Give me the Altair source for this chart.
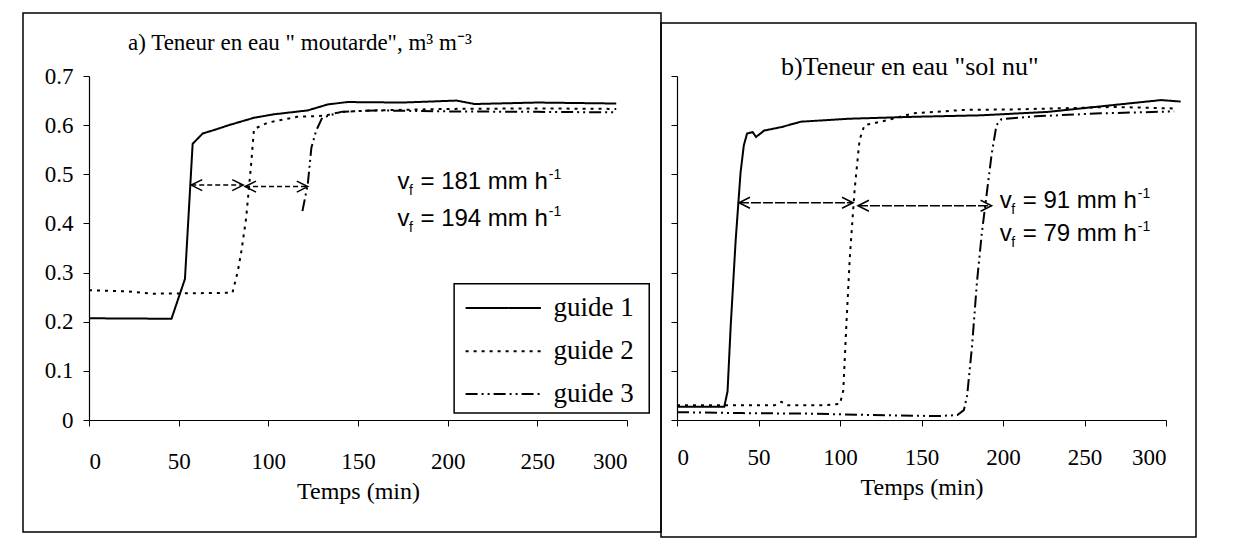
import altair as alt
import pandas as pd

# ---------------- data ----------------
GUIDES = ["guide 1", "guide 2", "guide 3"]
DASHES = [[1, 0], [3, 5], [12, 4, 2, 4, 2, 4]]

# (a) moutarde
A1_T = [0, 46, 53.5, 57.8, 63.4, 69.7, 78, 92, 103, 122, 133, 144, 175, 205, 215, 250, 294]
A1_Y = [0.207, 0.206, 0.287, 0.562, 0.583, 0.590, 0.600, 0.615, 0.622, 0.630, 0.642, 0.647, 0.646, 0.650, 0.643, 0.646, 0.644]
A2_T = [0, 20, 36, 60, 80, 83, 85, 87.6, 90.4, 92, 99.6, 116, 131, 140.5, 159, 200, 250, 294]
A2_Y = [0.264, 0.262, 0.257, 0.258, 0.259, 0.303, 0.344, 0.410, 0.520, 0.592, 0.605, 0.617, 0.619, 0.627, 0.630, 0.633, 0.634, 0.633]
A3_T = [119, 122, 124, 126.6, 130, 140.5, 160, 200, 250, 294]
A3_Y = [0.425, 0.480, 0.554, 0.588, 0.615, 0.627, 0.630, 0.628, 0.627, 0.626]

# (b) sol nu
B1_T = [0, 29, 31, 33, 36, 39, 41, 43, 46.4, 48.5, 53.5, 64, 76, 105, 145.6, 186.5, 227.6, 268, 297, 309]
B1_Y = [0.027, 0.027, 0.058, 0.195, 0.366, 0.504, 0.559, 0.583, 0.586, 0.576, 0.589, 0.596, 0.607, 0.613, 0.617, 0.620, 0.627, 0.641, 0.651, 0.648]
B2_T = [0, 30, 60, 64, 68, 90, 100, 102, 104, 106, 109, 112, 115, 125, 145, 176, 207, 268, 305]
B2_Y = [0.030, 0.030, 0.030, 0.037, 0.030, 0.030, 0.033, 0.060, 0.200, 0.330, 0.470, 0.570, 0.600, 0.607, 0.624, 0.631, 0.632, 0.637, 0.634]
B3_T = [0, 40, 80, 120, 160, 172, 176, 178, 181, 184, 187, 190, 193, 196, 199, 220, 260, 305]
B3_Y = [0.016, 0.014, 0.013, 0.010, 0.008, 0.010, 0.020, 0.050, 0.150, 0.280, 0.380, 0.460, 0.540, 0.600, 0.612, 0.618, 0.624, 0.628]

# double arrows (start time, end time, level)
A_ARW_T0 = [57, 87]
A_ARW_T1 = [86, 122]
A_ARW_Y = [0.478, 0.475]
B_ARW_T0 = [38, 111]
B_ARW_T1 = [108, 193]
B_ARW_Y = [0.442, 0.436]

# front velocities
A_VF = ["181", "194"]
A_VF_T = [172, 172]
A_VF_Y = [0.470, 0.395]
B_VF = ["91", "79"]
B_VF_T = [198, 198]
B_VF_Y = [0.431, 0.364]

TITLE_A = "a) Teneur en eau \" moutarde\", m\u00b3 m\u207b\u00b3"
TITLE_B = "b)Teneur en eau \"sol nu\""

# ---------------- layout constants ----------------
SERIF = "Liberation Serif"
SANS = "Liberation Sans"
H = 344
# legend of panel a, placed in data units (time, water content)
LEG_BOX = (203.6, 312.4, 0.014, 0.277)
LEG_SYM = (210, 252)
LEG_LABEL_T = 259
LEG_ROWS = [0.228, 0.140, 0.053]


def make_df(series):
    rows = []
    for g, ts, ys in series:
        for i, (t, y) in enumerate(zip(ts, ys)):
            rows.append({"guide": g, "t": t, "theta": y, "i": i})
    return pd.DataFrame(rows)


def panel(series, arw, vf, width, title, title_xy, title_fs, frame, y_labels, with_legend,
          arrow_dash, label_pad, title_pad, ndig):
    xs = alt.Scale(domain=[0, 300], nice=False, zero=False)
    ys = alt.Scale(domain=[0, 0.7], nice=False, zero=False)
    xax = alt.Axis(values=[0, 50, 100, 150, 200, 250, 300], title="Temps (min)",
                   labelPadding=label_pad, titlePadding=title_pad)
    yax = alt.Axis(values=[0, 0.1, 0.2, 0.3, 0.4, 0.5, 0.6, 0.7], title=None,
                   labels=y_labels, labelPadding=10,
                   labelExpr="datum.value == 0 ? '0' : format(datum.value, '.1f')")

    def X(f):
        return alt.X(f, type="quantitative", scale=xs, axis=xax)

    def Y(f):
        return alt.Y(f, type="quantitative", scale=ys, axis=yax)

    dash = alt.StrokeDash("guide:N", scale=alt.Scale(domain=GUIDES, range=DASHES), legend=None)

    df = make_df(series)
    lines = alt.Chart(df).mark_line(color="black", strokeWidth=2, clip=False).encode(
        x=X("t"), y=Y("theta"), strokeDash=dash, order="i:Q")

    t0, t1, ay = arw
    adf = pd.DataFrame({"t": t0, "t2": t1, "theta": ay})
    rule = alt.Chart(adf).mark_rule(color="black", strokeWidth=1.5, strokeDash=arrow_dash).encode(
        x=X("t"), x2="t2:Q", y=Y("theta"))
    head_l = alt.Chart(adf).mark_point(shape="M2,-1L0,0L2,1", filled=False, size=121,
                                       color="black", strokeWidth=1.5, opacity=1).encode(
        x=X("t"), y=Y("theta"))
    head_r = alt.Chart(adf).mark_point(shape="M-2,-1L0,0L-2,1", filled=False, size=121,
                                       color="black", strokeWidth=1.5, opacity=1).encode(
        x=X("t2"), y=Y("theta"))

    nums, vt, vy = vf
    vdf = pd.DataFrame({"t": vt, "theta": vy, "label": ["= " + n + " mm h" for n in nums]})
    fs = 24
    base = alt.Chart(vdf)
    v_txt = base.mark_text(text="v", align="left", baseline="alphabetic", font=SANS,
                           fontSize=fs, color="black").encode(x=X("t"), y=Y("theta"))
    f_txt = base.mark_text(text="f", align="left", baseline="alphabetic", font=SANS,
                           fontSize=14, color="black", dx=11.5, dy=6).encode(x=X("t"), y=Y("theta"))
    main_txt = base.mark_text(align="left", baseline="alphabetic", font=SANS, fontSize=fs,
                              color="black", dx=23).encode(x=X("t"), y=Y("theta"), text="label:N")
    main_w = (0.584 + 0.278 * 3 + 0.556 * ndig + 0.833 * 2 + 0.556) * fs
    sup_txt = base.mark_text(text="-1", align="left", baseline="alphabetic", font=SANS,
                             fontSize=14, color="black", dx=23 + main_w + 1, dy=-10).encode(
        x=X("t"), y=Y("theta"))

    one = pd.DataFrame({"label": [title]})
    ttl = alt.Chart(one).mark_text(align="left", baseline="alphabetic", font=SERIF,
                                   fontSize=title_fs, color="black").encode(
        x=alt.value(title_xy[0]), y=alt.value(title_xy[1]), text="label:N")

    fx0, fx1, fy0, fy1 = frame
    box = alt.Chart(pd.DataFrame({"k": [0]})).mark_rect(
        fillOpacity=0, stroke="black", strokeWidth=1.5, clip=False).encode(
        x=alt.value(fx0), x2=alt.value(fx1), y=alt.value(fy0), y2=alt.value(fy1))

    layers = [box, lines, rule, head_l, head_r, v_txt, f_txt, main_txt, sup_txt, ttl]

    if with_legend:
        ldf = pd.DataFrame({"guide": GUIDES, "theta": LEG_ROWS,
                            "t": [LEG_SYM[0]] * 3, "t2": [LEG_SYM[1]] * 3,
                            "tl": [LEG_LABEL_T] * 3})
        bdf = pd.DataFrame({"t": [LEG_BOX[0]], "t2": [LEG_BOX[1]],
                            "theta": [LEG_BOX[2]], "theta2": [LEG_BOX[3]]})
        lbox = alt.Chart(bdf).mark_rect(fill="white", stroke="black", strokeWidth=1.5).encode(
            x=X("t"), x2="t2:Q", y=Y("theta"), y2="theta2:Q")
        lsym = alt.Chart(ldf).mark_rule(color="black", strokeWidth=2).encode(
            x=X("t"), x2="t2:Q", y=Y("theta"), strokeDash=dash)
        ltxt = alt.Chart(ldf).mark_text(align="left", baseline="middle", font=SERIF,
                                        fontSize=27, color="black").encode(
            x=X("tl"), y=Y("theta"), text="guide:N")
        layers += [lbox, lsym, ltxt]

    return alt.layer(*layers).properties(width=width, height=H)


left = panel(
    [("guide 1", A1_T, A1_Y), ("guide 2", A2_T, A2_Y), ("guide 3", A3_T, A3_Y)],
    (A_ARW_T0, A_ARW_T1, A_ARW_Y), (A_VF, A_VF_T, A_VF_Y), 538, TITLE_A, (39, -26), 23,
    (-66, 572, -63, 456), True, True, [5, 3], 24, 6, 3)

right = panel(
    [("guide 1", B1_T, B1_Y), ("guide 2", B2_T, B2_Y), ("guide 3", B3_T, B3_Y)],
    (B_ARW_T0, B_ARW_T1, B_ARW_Y), (B_VF, B_VF_T, B_VF_Y), 489, TITLE_B, (104, -1), 26,
    (-16, 519, -53, 461), False, False, [10, 2], 20, 6, 2)

chart = alt.hconcat(left, right, spacing=50, bounds="flush").resolve_scale(
    strokeDash="independent"
).properties(
    padding={"left": 14, "top": 4, "right": 4, "bottom": 4}
).configure_view(stroke=None).configure_axis(
    labelFont=SERIF, labelFontSize=23, labelColor="black",
    titleFont=SERIF, titleFontSize=24, titleFontWeight="normal", titleColor="black",
    domainColor="black", tickColor="black", tickSize=6, grid=False, domainWidth=1.2,
)

chart.save("out.html", embed_options={"renderer": "svg", "actions": False})
